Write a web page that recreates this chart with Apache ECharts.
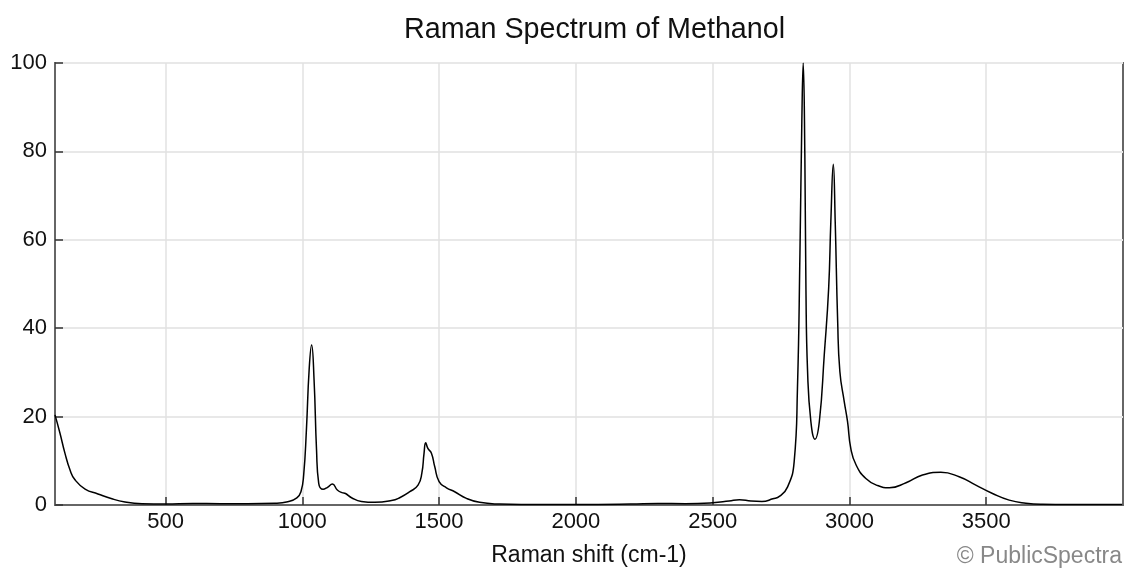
<!DOCTYPE html>
<html>
<head>
<meta charset="utf-8">
<script src="https://cdn.jsdelivr.net/npm/echarts@6/dist/echarts.min.js"></script>
<style>
  html, body { margin: 0; padding: 0; background: #fff; }
  #chart { width: 1128px; height: 574px; }
</style>
</head>
<body>
<div id="chart"></div>
<script>
// Raman shift (cm-1) and intensity
const ramanShift = [
  96, 114, 132, 151, 169, 206, 253, 304, 352, 414, 500, 600, 700, 800, 900, 947, 980, 995,
  1005, 1015, 1025, 1034, 1043, 1052, 1060, 1076, 1092, 1110, 1128, 1145, 1158, 1180, 1216,
  1265, 1326, 1356, 1393, 1423, 1437, 1445, 1451, 1459, 1472, 1484, 1500, 1527, 1557, 1600,
  1648, 1721, 1800, 2000, 2200, 2300, 2400, 2500, 2560, 2598, 2640, 2680, 2720, 2745, 2774,
  2798, 2810, 2819, 2826, 2831, 2837, 2841, 2847, 2859, 2874, 2890, 2908, 2924, 2932, 2941,
  2948, 2957, 2965, 2981, 2993, 3005, 3024, 3060, 3103, 3146, 3207, 3267, 3334, 3401, 3462,
  3523, 3584, 3645, 3705, 3800, 3997
]
const intensity = [
  20.4, 16.3, 11.8, 7.9, 5.7, 3.6, 2.5, 1.4, 0.7, 0.3, 0.2, 0.35, 0.3, 0.3, 0.4, 0.75, 1.6, 3.0,
  6.8, 17, 30.6, 36.2, 28.3, 12.5, 4.9, 3.55, 4.0, 4.75, 3.4, 2.8, 2.6, 1.65, 0.8,
  0.6, 1.0, 1.65, 3.0, 4.5, 7.2, 11.7, 14.1, 12.8, 11.7, 8.7, 5.3, 3.9, 3.0, 1.5,
  0.6, 0.2, 0.1, 0.1, 0.2, 0.35, 0.3, 0.5, 0.9, 1.2, 0.9, 0.8, 1.4, 2.0, 4.1,
  9.8, 26.4, 56.6, 86.8, 100, 79.2, 49, 30.2, 18.9, 14.9, 18.9, 34, 49, 64.1, 77.1,
  64.1, 41.5, 30.2, 23.4, 18.9, 12.8, 9.1, 6.0, 4.4, 3.9, 5.05, 6.8, 7.4, 6.4, 4.5,
  2.6, 1.1, 0.4, 0.15, 0.1, 0.1
]
const xTicks = [500, 1000, 1500, 2000, 2500, 3000, 3500]

const points = ramanShift.map((x, i) => [x, intensity[i]])

const chart = echarts.init(document.getElementById('chart'))
const font = 'Liberation Sans, Arial, sans-serif'

const option = {
  animation: false,
  title: {
    text: 'Raman Spectrum of Methanol',
    left: 399,
    top: 11,
    textStyle: { fontFamily: font, fontSize: 28.7, fontWeight: 'normal', color: '#111' }
  },
  grid: {
    left: 55,
    right: 5,
    top: 63,
    bottom: 69,
    show: true,
    borderColor: '#666',
    borderWidth: 2
  },
  xAxis: {
    type: 'value',
    min: 96,
    max: 4000,
    name: 'Raman shift (cm-1)',
    nameLocation: 'middle',
    nameGap: 39,
    nameTextStyle: { fontFamily: font, fontSize: 23, color: '#111' },
    axisLine: { lineStyle: { color: '#666', width: 2 } },
    axisTick: { inside: true, length: 8, customValues: xTicks, lineStyle: { color: '#333', width: 1.5 } },
    axisLabel: {
      customValues: xTicks,
      margin: 6,
      fontFamily: font,
      fontSize: 22,
      color: '#111',
      formatter: v => String(v)
    },
    splitLine: { show: true, lineStyle: { color: '#e2e2e2', width: 1.5 } }
  },
  yAxis: {
    type: 'value',
    min: 0,
    max: 100,
    interval: 20,
    axisLine: { show: true, lineStyle: { color: '#666', width: 2 } },
    axisTick: { show: true, inside: true, length: 8, lineStyle: { color: '#333', width: 1.5 } },
    axisLabel: { margin: 8, fontFamily: font, fontSize: 22, color: '#111' },
    splitLine: { show: true, lineStyle: { color: '#e8e8e8', width: 2 } }
  },
  graphic: [
    {
      type: 'text',
      right: 6,
      top: 545,
      style: { text: '© PublicSpectra', fontFamily: font, fontSize: 23, fill: '#888' }
    }
  ],
  series: [
    {
      type: 'line',
      data: points,
      showSymbol: false,
      smooth: 0.5,
      lineStyle: { color: '#000', width: 1.5 }
    }
  ]
}
chart.setOption(option)
</script>
</body>
</html>
